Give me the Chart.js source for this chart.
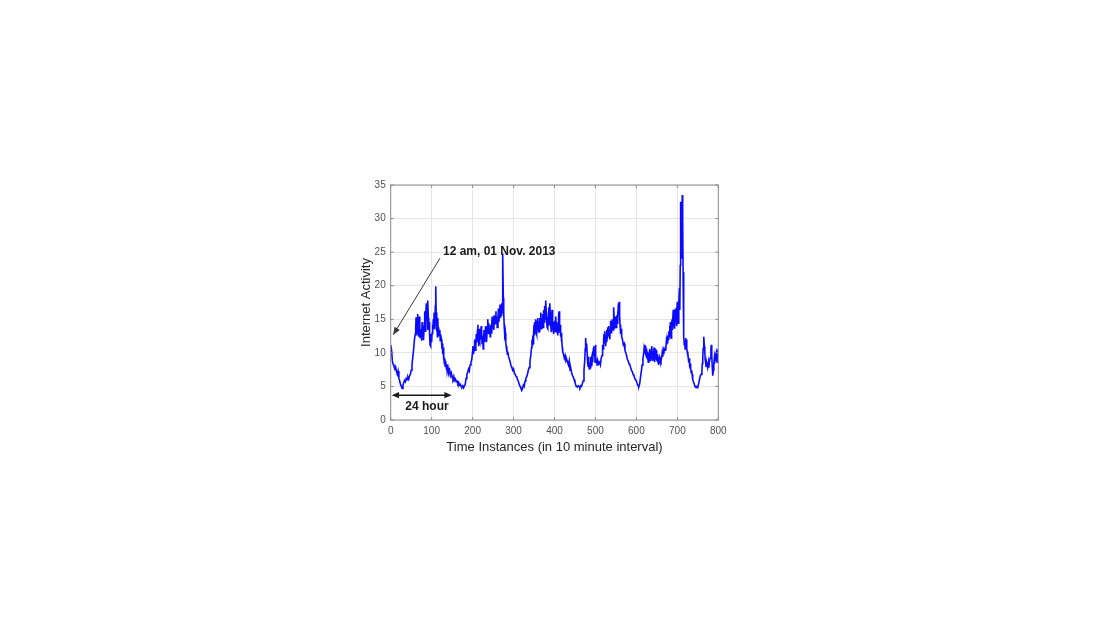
<!DOCTYPE html>
<html>
<head>
<meta charset="utf-8">
<script src="https://cdn.jsdelivr.net/npm/chart.js@4/dist/chart.umd.min.js"></script>
<style>
  html, body { margin: 0; padding: 0; background: #ffffff; }
  #wrap { width: 1094px; height: 618px; }
</style>
</head>
<body>
<div id="wrap"><canvas id="activityChart" width="1094" height="618"></canvas></div>
<script>
// Tick labels
const xTicks = [0, 100, 200, 300, 400, 500, 600, 700, 800];
const yTicks = [0, 5, 10, 15, 20, 25, 30, 35];

// Time instance (10 minute steps); each row pairs with the same row of activity
const timeIdx = [
  0, 2, 4, 6, 8, 10, 12, 14, 16, 18,
  20, 22, 24, 26, 28, 30, 32, 34, 36, 38,
  40, 42, 44, 46, 48, 50, 52, 54, 56, 58,
  60, 61, 62, 63, 64, 65, 66, 67, 68, 69,
  70, 71, 72, 74, 75, 76, 77, 78, 79, 80,
  82, 83, 84, 85, 86, 87, 88, 89, 90, 91,
  92, 93, 94, 95, 96, 97, 98, 99, 100, 101,
  102, 103, 104, 105, 106, 107, 108, 109, 110, 111,
  112, 113, 114, 115, 116, 117, 118, 120, 121, 122,
  124, 125, 126, 127, 128, 129, 130, 131, 132, 133,
  134, 136, 137, 138, 140, 142, 144, 146, 148, 150,
  152, 154, 156, 158, 160, 162, 164, 166, 168, 170,
  172, 174, 176, 178, 180, 182, 184, 186, 188, 190,
  192, 194, 196, 198, 200,
  201, 202, 204, 205, 206, 208, 209, 210, 212, 213,
  214, 215, 216, 217, 218, 220, 221, 222, 223, 224,
  226, 227, 228, 229, 230, 232, 233, 234, 236, 237,
  238, 239, 240, 242, 243, 244, 246, 247, 248, 249,
  250, 252, 253, 254, 256, 257, 258, 259, 260, 262,
  263, 264, 266, 267, 268, 269, 270, 271, 272, 273,
  274, 275, 276, 277, 278, 279, 280, 281, 282, 283,
  284, 285, 286, 288, 290, 292, 294, 296, 298, 300,
  302, 304, 306, 308, 310, 312, 314, 316, 318, 320,
  322, 324, 326, 328, 330, 332, 334, 336, 338, 340,
  342, 344, 345, 346, 347, 348, 349, 350, 351, 352,
  353, 354, 355, 356, 357, 358, 359, 360, 361, 362,
  363, 364, 365, 366, 367, 368, 369, 370, 371, 372,
  373, 374, 375, 376, 377, 378, 379, 380, 381, 382,
  383, 384, 385, 386, 387, 388, 389, 390, 391, 392,
  393, 394, 395, 396, 397, 398, 399, 400,
  401, 402, 403, 404, 405, 406, 407, 408, 409, 410,
  411, 412, 413, 414, 415, 416, 417, 418, 419, 420,
  422, 424, 426, 428, 430, 432, 434, 436, 438, 440,
  442, 444, 446, 448, 450, 452, 454, 456, 458, 460,
  462, 464, 466, 468, 470, 472, 474, 475, 476, 477,
  478, 479, 480, 481, 482, 483, 484, 485, 486, 487,
  488, 489, 490, 491, 492, 493, 494, 495, 496, 497,
  498, 499, 500, 501, 502, 503, 504, 506, 508, 510,
  512, 514, 516, 517, 518, 519, 520, 521, 522, 523,
  524, 525, 526, 527, 528, 529, 530, 531, 532, 533,
  534, 535, 536, 537, 538, 539, 540, 541, 542, 543,
  544, 545, 546, 547, 548, 549, 550, 551, 552, 553,
  554, 555, 556, 557, 558, 559, 560, 561, 562, 563,
  564, 566, 568, 570, 572, 574, 576, 578, 580, 582,
  584, 586, 588, 590, 592, 594, 596, 598, 600,
  602, 604, 606, 608, 610, 612, 614, 616, 618, 619,
  620, 621, 622, 623, 624, 625, 626, 627, 628, 629,
  630, 631, 632, 633, 634, 635, 636, 637, 638, 639,
  640, 641, 642, 643, 644, 645, 646, 647, 648, 649,
  650, 651, 652, 653, 654, 656, 657, 658, 660, 662,
  663, 664, 666, 667, 668, 670, 671, 672, 673, 674,
  675, 676, 677, 678, 679, 680, 681, 682, 683, 684,
  685, 686, 687, 688, 689, 690, 691, 692, 693, 694,
  695, 696, 697, 698, 699, 700, 701, 702, 703, 704,
  705, 706, 707, 708, 709, 710, 711, 712, 713, 714,
  715, 716, 717, 718, 719, 720, 721, 722, 723, 724,
  725, 726, 727, 728, 729, 730, 731, 732, 733, 734,
  735, 736, 737, 738, 740, 742, 744, 746, 748, 750,
  752, 754, 756, 758, 760, 761, 762, 763, 764, 765,
  766, 767, 768, 769, 770, 772, 774, 776, 777, 778,
  780, 782, 783, 784, 785, 786, 787, 788, 789, 790,
  791, 792, 793, 794, 795, 796, 797, 798, 799, 800
];

// Internet activity at each time instance
const activity = [
  11.2, 10.5, 8.8, 8.3, 8.0, 7.6, 7.9, 7.2, 6.8, 7.3,
  6.2, 5.8, 5.3, 5.0, 4.7, 5.2, 5.6, 5.9, 5.7, 6.2,
  6.0, 6.4, 6.1, 6.6, 6.8, 7.4, 8.2, 9.4, 10.5, 12.0,
  12.8, 13.6, 15.3, 13.4, 12.6, 14.2, 15.8, 13.6, 12.4, 14.0,
  15.4, 13.0, 12.2, 13.5, 11.8, 13.0, 14.6, 12.4, 13.2, 11.9,
  14.0, 16.2, 14.3, 13.1, 15.8, 17.4, 14.8, 16.3, 13.4, 17.8,
  15.2, 13.8, 14.6, 12.6, 11.2, 12.8, 11.0, 12.4, 11.6, 12.9,
  14.2, 13.0, 15.0, 13.6, 16.0, 14.2, 13.5, 17.0, 19.9, 16.0,
  13.2, 14.6, 12.4, 15.2, 12.9, 13.8, 12.6, 13.4, 11.8, 12.7,
  12.0, 10.6, 11.4, 9.8, 10.8, 9.0, 9.6, 8.4, 9.2, 8.0,
  8.8, 7.6, 8.3, 7.2, 7.8, 7.0, 7.4, 6.6, 7.0, 6.4,
  6.1, 6.5, 5.9, 6.1, 5.7, 5.8, 5.4, 5.6, 5.2, 5.3,
  5.0, 4.9, 5.1, 4.8, 5.1, 5.3, 6.2, 6.8, 7.1, 7.6,
  7.3, 8.2, 8.6, 9.0, 10.2,
  11.0, 9.8, 10.6, 12.0, 10.4, 11.2, 12.8, 11.5, 13.4, 14.2,
  12.6, 11.0, 12.2, 13.6, 11.8, 12.6, 14.0, 13.1, 11.4, 12.6,
  10.6, 12.2, 13.4, 11.6, 12.5, 14.0, 12.7, 11.6, 13.8, 15.0,
  13.6, 14.4, 12.8, 13.8, 12.4, 14.2, 13.0, 14.6, 15.4, 13.6,
  14.8, 13.4, 15.6, 14.2, 15.0, 16.2, 14.4, 15.4, 13.8, 15.0,
  16.6, 14.6, 15.6, 17.2, 15.2, 16.8, 15.6, 17.4, 16.0, 20.0,
  24.8, 18.2, 16.0, 14.2, 13.8, 12.6, 13.0, 11.6, 11.0, 10.2,
  10.6, 9.8, 10.2, 9.4, 9.0, 8.6, 8.0, 7.8, 7.4, 7.6,
  7.0, 6.8, 6.5, 6.4, 6.0, 5.7, 5.3, 5.0, 4.7, 4.4,
  4.7, 5.2, 5.0, 5.8, 6.2, 6.4, 6.8, 7.4, 7.8, 8.6,
  9.6, 10.8, 12.0, 11.2, 12.6, 11.4, 13.0, 14.2, 12.6, 14.6,
  13.0, 15.0, 13.2, 12.8, 14.8, 13.6, 15.2, 14.0, 13.0, 14.6,
  13.2, 15.2, 14.0, 16.0, 14.6, 13.6, 15.2, 14.2, 15.8, 13.8,
  15.2, 16.4, 14.6, 17.0, 15.0, 16.4, 17.8, 16.0, 14.6, 13.8,
  15.4, 13.6, 15.0, 16.8, 14.2, 15.6, 17.4, 15.4, 14.0, 13.2,
  15.0, 16.4, 14.4, 13.4, 14.6, 12.8, 14.2, 13.6,
  14.8, 13.2, 15.4, 14.2, 13.0, 14.6, 13.4, 12.6, 14.0, 15.6,
  16.2, 14.4, 13.0, 14.2, 12.4, 13.0, 11.6, 12.2, 10.8, 10.2,
  9.8, 9.2, 9.6, 8.8, 9.0, 8.6, 8.2, 8.8, 7.4, 7.6,
  7.0, 6.6, 6.4, 6.0, 5.6, 5.2, 5.0, 4.9, 5.1, 5.0,
  4.8, 5.1, 5.0, 5.4, 5.8, 7.4, 9.0, 10.6, 12.2, 11.0,
  10.2, 11.4, 9.6, 8.4, 8.0, 9.4, 8.2, 7.6, 8.6, 7.8,
  9.4, 8.4, 9.0, 8.0, 8.8, 10.2, 9.4, 10.6, 11.0, 9.6,
  10.4, 8.6, 11.2, 9.4, 8.6, 9.0, 8.2, 8.8, 8.4, 8.6,
  8.2, 9.2, 9.6, 10.4, 11.2, 10.6, 12.0, 12.8, 11.4, 13.2,
  12.0, 11.0, 12.6, 13.4, 11.6, 12.4, 13.8, 12.6, 14.0, 12.8,
  13.6, 12.0, 13.4, 14.8, 13.0, 14.2, 13.6, 15.0, 14.2, 13.4,
  15.6, 16.8, 14.8, 13.6, 15.4, 14.0, 15.0, 13.8, 15.6, 14.4,
  16.2, 15.0, 17.4, 16.0, 17.6, 15.6, 14.2, 13.4, 12.8, 13.6,
  12.4, 12.0, 11.2, 11.4, 10.4, 10.0, 9.6, 9.0, 8.8, 8.4,
  8.2, 7.8, 7.4, 7.2, 6.8, 6.6, 6.2, 6.0, 5.8,
  5.4, 5.1, 5.0, 5.4, 6.4, 7.2, 8.2, 9.2, 10.0, 10.8,
  11.2, 10.4, 11.0, 9.6, 10.6, 9.2, 10.2, 9.0, 9.6, 8.6,
  10.0, 8.8, 9.4, 10.6, 9.4, 8.8, 10.4, 9.0, 11.0, 9.8,
  8.8, 10.2, 9.2, 10.8, 9.4, 8.6, 9.8, 10.6, 9.2, 10.4,
  9.0, 9.8, 8.8, 9.4, 8.2, 9.0, 8.4, 9.2, 8.8, 9.4,
  10.0, 9.4, 10.2, 9.8, 10.6, 10.4, 11.0, 10.4, 11.6, 11.2,
  12.0, 11.4, 12.6, 12.0, 13.2, 12.4, 14.0, 13.0, 14.6, 13.4,
  12.2, 14.2, 15.0, 13.4, 14.6, 16.4, 13.8, 15.4, 14.2, 13.6,
  16.6, 14.8, 15.8, 14.0, 16.4, 17.6, 15.2, 14.4, 16.0, 17.2,
  19.6, 16.4, 23.0, 32.5, 29.0, 24.0, 27.0, 33.5, 30.0, 22.0,
  15.0, 12.4, 11.2, 11.8, 10.6, 12.2, 11.0, 12.0, 10.6, 10.2,
  9.6, 10.0, 9.0, 8.6, 9.2, 8.0, 7.8, 8.4, 7.6, 7.0,
  7.4, 6.8, 6.4, 6.0, 5.6, 5.2, 4.9, 5.0, 4.8, 5.0,
  5.4, 6.0, 6.6, 6.8, 7.4, 8.4, 9.2, 10.6, 11.4, 12.4,
  11.0, 10.2, 9.0, 8.6, 8.0, 8.4, 7.8, 8.6, 7.8, 8.6,
  9.2, 10.6, 11.2, 9.8, 8.2, 7.0, 6.6, 7.4, 8.4, 9.0,
  8.4, 9.4, 8.8, 9.6, 10.0, 9.2, 8.6, 9.6, 10.0, 9.7
];

const colors = {
    line: '#0a0aff',
    grid: '#e6e6e6',
    box: '#8c8c8c',
    tick: '#505050',
    title: '#262626',
    note: '#1a1a1a',
    pointer: '#3a3a3a'
};

function drawArrowHead(c, x1, y1, x2, y2, size) {
    const a = Math.atan2(y2 - y1, x2 - x1);
    c.beginPath();
    c.moveTo(x2, y2);
    c.lineTo(x2 - size * Math.cos(a - 0.4), y2 - size * Math.sin(a - 0.4));
    c.lineTo(x2 - size * Math.cos(a + 0.4), y2 - size * Math.sin(a + 0.4));
    c.closePath();
    c.fill();
}

// Axes box, inward ticks and the two annotations
const notesPlugin = {
    id: 'notes',
    afterDatasetsDraw(chart) {
        const c = chart.ctx;
        const area = chart.chartArea;
        const xs = chart.scales.x;
        const ys = chart.scales.y;

        c.save();
        c.strokeStyle = colors.box;
        c.lineWidth = 1;
        c.strokeRect(area.left, area.top, area.right - area.left, area.bottom - area.top);
        c.beginPath();
        xTicks.forEach(t => {
            const px = xs.getPixelForValue(t);
            c.moveTo(px, area.bottom); c.lineTo(px, area.bottom - 3);
            c.moveTo(px, area.top); c.lineTo(px, area.top + 3);
        });
        yTicks.forEach(t => {
            const py = ys.getPixelForValue(t);
            c.moveTo(area.left, py); c.lineTo(area.left + 3, py);
            c.moveTo(area.right, py); c.lineTo(area.right - 3, py);
        });
        c.stroke();

        // pointer to the first sample
        const ax1 = xs.getPixelForValue(120.4), ay1 = ys.getPixelForValue(24.1);
        const ax2 = xs.getPixelForValue(6.3), ay2 = ys.getPixelForValue(12.7);
        c.strokeStyle = colors.pointer;
        c.fillStyle = colors.pointer;
        c.lineWidth = 1;
        c.beginPath();
        c.moveTo(ax1, ay1);
        c.lineTo(ax2, ay2);
        c.stroke();
        drawArrowHead(c, ax1, ay1, ax2, ay2, 8);

        c.font = 'bold 12px "Liberation Sans", Arial, sans-serif';
        c.fillStyle = colors.note;
        c.textAlign = 'left';
        c.textBaseline = 'middle';
        c.fillText('12 am, 01 Nov. 2013', xs.getPixelForValue(127.7), ys.getPixelForValue(25.0));

        // 24 hour span
        const hx1 = xs.getPixelForValue(2.4), hx2 = xs.getPixelForValue(149);
        const hy = ys.getPixelForValue(3.7);
        c.strokeStyle = colors.note;
        c.fillStyle = colors.note;
        c.lineWidth = 1.5;
        c.beginPath();
        c.moveTo(hx1 + 4, hy);
        c.lineTo(hx2 - 4, hy);
        c.stroke();
        drawArrowHead(c, hx2, hy, hx1, hy, 8);
        drawArrowHead(c, hx1, hy, hx2, hy, 8);

        c.textAlign = 'center';
        c.fillText('24 hour', xs.getPixelForValue(88.6), ys.getPixelForValue(1.95));
        c.restore();
    }
};

function renderActivityChart() {
    const ctx = document.getElementById('activityChart');
    if (!ctx) return;

    const context = ctx.getContext('2d');
    const data = {
        datasets: [{
            label: 'Internet Activity',
            data: timeIdx.map((t, i) => ({ x: t, y: activity[i] })),
            borderColor: colors.line,
            borderWidth: 1.6,
            pointRadius: 0,
            fill: false,
            tension: 0
        }]
    };

    new Chart(context, {
        type: 'line',
        data: data,
        plugins: [notesPlugin],
        options: {
            responsive: false,
            animation: false,
            devicePixelRatio: 1,
            layout: {
                padding: { left: 350.7, top: 185, right: 375.7, bottom: 158 }
            },
            plugins: {
                legend: { display: false },
                tooltip: { enabled: false }
            },
            scales: {
                x: {
                    type: 'linear',
                    min: 0,
                    max: 800,
                    afterFit: scale => { scale.height = 40; },
                    afterBuildTicks: scale => { scale.ticks = xTicks.map(v => ({ value: v })); },
                    grid: { color: colors.grid, drawTicks: false },
                    border: { display: false },
                    ticks: {
                        color: colors.tick,
                        padding: 5,
                        maxRotation: 0,
                        font: { family: '"Liberation Sans", Arial, sans-serif', size: 10 }
                    },
                    title: {
                        display: true,
                        text: 'Time Instances (in 10 minute interval)',
                        color: colors.title,
                        padding: { top: 0, bottom: 5 },
                        font: { family: '"Liberation Sans", Arial, sans-serif', size: 13 }
                    }
                },
                y: {
                    type: 'linear',
                    min: 0,
                    max: 35,
                    afterFit: scale => { scale.width = 40; },
                    afterBuildTicks: scale => { scale.ticks = yTicks.map(v => ({ value: v })); },
                    grid: { color: colors.grid, drawTicks: false },
                    border: { display: false },
                    ticks: {
                        color: colors.tick,
                        padding: 5,
                        font: { family: '"Liberation Sans", Arial, sans-serif', size: 10 }
                    },
                    title: {
                        display: true,
                        text: 'Internet Activity',
                        color: colors.title,
                        padding: { top: 7.5, bottom: 0 },
                        font: { family: '"Liberation Sans", Arial, sans-serif', size: 13 }
                    }
                }
            }
        }
    });
}

document.addEventListener('DOMContentLoaded', function() {
    try {
        renderActivityChart();
    } catch (error) {
        console.error('Error rendering chart:', error);
    }
});
</script>
</body>
</html>
